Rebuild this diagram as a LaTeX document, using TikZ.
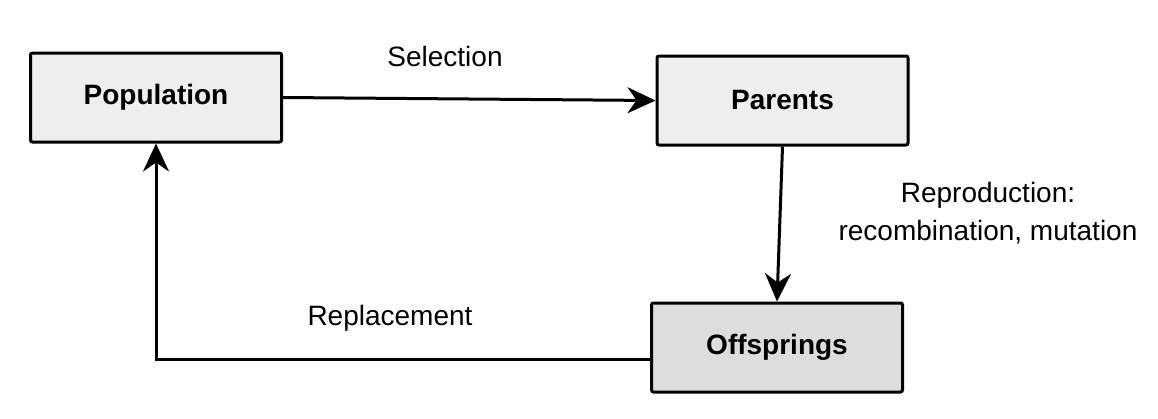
\documentclass[tikz,border=0pt]{standalone}
\usepackage{fontspec}
\setmainfont{Liberation Sans}
\usetikzlibrary{arrows.meta}
\begin{document}
\begin{tikzpicture}[x=1pt,y=-1pt,
  boxnode/.style={draw=black,line width=3pt,rounded corners=2pt,minimum width=251pt,minimum height=89pt,inner sep=0pt,font=\fontsize{28}{33}\selectfont\bfseries},
  lbl/.style={inner sep=0pt,anchor=base,font=\fontsize{28}{33}\selectfont},
  conn/.style={line width=3pt,-{Stealth[length=28pt,width=26pt,inset=9pt]}}]
\useasboundingbox (0,0) rectangle (1158,418);
\node[boxnode,fill={rgb,255:red,238;green,238;blue,238}] (pop) at (156,97.5) {Population};
\node[boxnode,fill={rgb,255:red,238;green,238;blue,238}] (par) at (782.5,100.5) {Parents};
\node[boxnode,fill={rgb,255:red,221;green,221;blue,221}] (off) at (777,347.5) {Offsprings};
\draw[conn] (pop.east) -- (par.west);
\draw[conn] (par.south) -- (off.north);
\draw[conn] ([yshift=-11.5pt]off.west) -| (pop.south);
\node[lbl] (sel) at (445,66) {Selection};
\node[lbl] (rep1) at (988,202) {Reproduction:};
\node[lbl] (rep2) at (988,240) {recombination, mutation};
\node[lbl] (repl) at (390,325) {Replacement};
\end{tikzpicture}
\end{document}
